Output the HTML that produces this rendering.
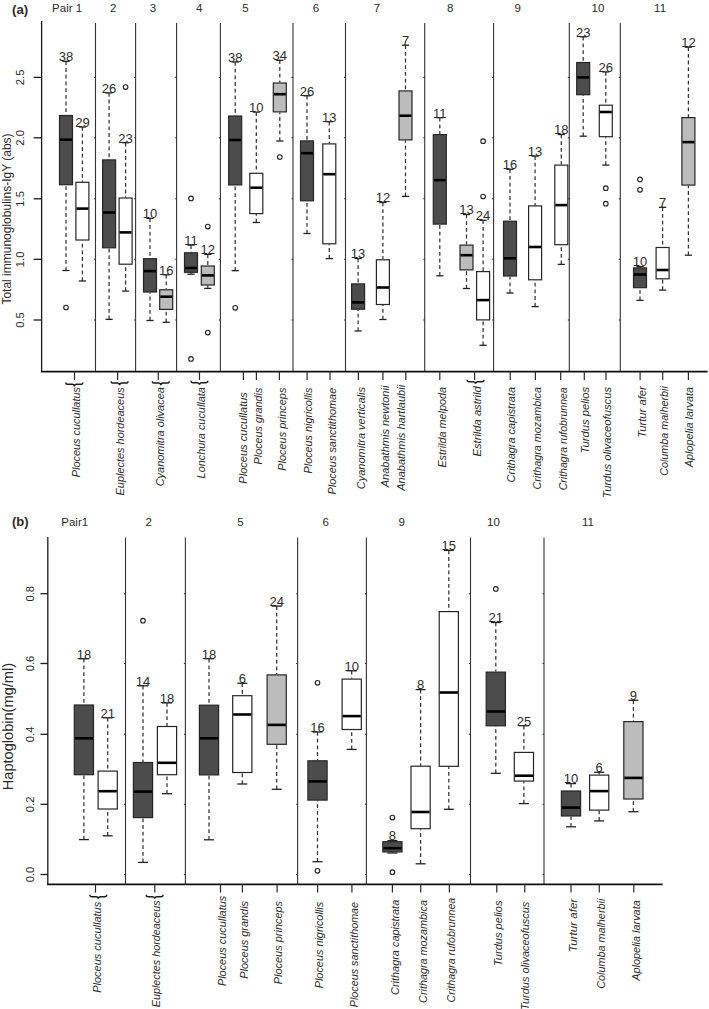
<!DOCTYPE html>
<html><head><meta charset="utf-8"><style>
html,body{margin:0;padding:0;background:#fff;}
svg{display:block;}
text{font-family:"Liberation Sans",sans-serif;fill:#2b2b2b;}
.pl{font-weight:bold;font-size:12px;}
.gl{font-size:11.5px;text-anchor:middle;}
.tl{font-size:11.3px;text-anchor:middle;}
.tt{text-anchor:middle;}
.n{text-anchor:middle;}
.xl{font-style:italic;text-anchor:end;}
.ax{stroke:#1a1a1a;stroke-width:1.3;}
.xa{stroke:#111;stroke-width:1.8;}
.sp{stroke:#333;stroke-width:1.1;}
.xt{stroke:#2a2a2a;stroke-width:1.2;}
.wh{stroke:#333;stroke-width:1.25;stroke-dasharray:3.8 2.9;}
.cap{stroke:#222;stroke-width:1.3;}
.bx{stroke:#262626;stroke-width:1.2;}
.md{stroke:#000;stroke-width:2.6;}
.ol{fill:none;stroke:#222;stroke-width:1.1;}
.br{fill:none;stroke:#1a1a1a;stroke-width:1.5;}
</style></head><body>
<svg width="709" height="1009" viewBox="0 0 709 1009">
<text class="pl" x="12.0" y="13.5" textLength="16.2" lengthAdjust="spacingAndGlyphs">(a)</text>
<text class="gl" x="67.1" y="12.3">Pair 1</text>
<text class="gl" x="113.2" y="12.3">2</text>
<text class="gl" x="152.9" y="12.3">3</text>
<text class="gl" x="199.2" y="12.3">4</text>
<text class="gl" x="245.5" y="12.3">5</text>
<text class="gl" x="315.9" y="12.3">6</text>
<text class="gl" x="377.0" y="12.3">7</text>
<text class="gl" x="450.3" y="12.3">8</text>
<text class="gl" x="517.7" y="12.3">9</text>
<text class="gl" x="597.9" y="12.3">10</text>
<text class="gl" x="660.1" y="12.3">11</text>
<line class="ax" x1="41.6" y1="21.0" x2="41.6" y2="371.6"/>
<line class="ax" x1="33.7" y1="77.4" x2="41.6" y2="77.4"/>
<text class="tl" transform="translate(23.6,77.4) rotate(-90)">2.5</text>
<line class="ax" x1="33.7" y1="137.8" x2="41.6" y2="137.8"/>
<text class="tl" transform="translate(23.6,137.8) rotate(-90)">2.0</text>
<line class="ax" x1="33.7" y1="198.8" x2="41.6" y2="198.8"/>
<text class="tl" transform="translate(23.6,198.8) rotate(-90)">1.5</text>
<line class="ax" x1="33.7" y1="259.3" x2="41.6" y2="259.3"/>
<text class="tl" transform="translate(23.6,259.3) rotate(-90)">1.0</text>
<line class="ax" x1="33.7" y1="320.0" x2="41.6" y2="320.0"/>
<text class="tl" transform="translate(23.6,320.0) rotate(-90)">0.5</text>
<text class="tt" font-size="12.0" transform="translate(11.1,219.0) rotate(-90)">Total immunoglobulins-IgY (abs)</text>
<line class="sp" x1="95.5" y1="23.0" x2="95.5" y2="371.6"/>
<line class="sp" x1="94.0" y1="77.4" x2="95.5" y2="77.4"/>
<line class="sp" x1="94.0" y1="137.8" x2="95.5" y2="137.8"/>
<line class="sp" x1="94.0" y1="198.8" x2="95.5" y2="198.8"/>
<line class="sp" x1="94.0" y1="259.3" x2="95.5" y2="259.3"/>
<line class="sp" x1="94.0" y1="320.0" x2="95.5" y2="320.0"/>
<line class="sp" x1="135.6" y1="23.0" x2="135.6" y2="371.6"/>
<line class="sp" x1="134.1" y1="77.4" x2="135.6" y2="77.4"/>
<line class="sp" x1="134.1" y1="137.8" x2="135.6" y2="137.8"/>
<line class="sp" x1="134.1" y1="198.8" x2="135.6" y2="198.8"/>
<line class="sp" x1="134.1" y1="259.3" x2="135.6" y2="259.3"/>
<line class="sp" x1="134.1" y1="320.0" x2="135.6" y2="320.0"/>
<line class="sp" x1="176.6" y1="23.0" x2="176.6" y2="371.6"/>
<line class="sp" x1="175.1" y1="77.4" x2="176.6" y2="77.4"/>
<line class="sp" x1="175.1" y1="137.8" x2="176.6" y2="137.8"/>
<line class="sp" x1="175.1" y1="198.8" x2="176.6" y2="198.8"/>
<line class="sp" x1="175.1" y1="259.3" x2="176.6" y2="259.3"/>
<line class="sp" x1="175.1" y1="320.0" x2="176.6" y2="320.0"/>
<line class="sp" x1="220.4" y1="23.0" x2="220.4" y2="371.6"/>
<line class="sp" x1="218.9" y1="77.4" x2="220.4" y2="77.4"/>
<line class="sp" x1="218.9" y1="137.8" x2="220.4" y2="137.8"/>
<line class="sp" x1="218.9" y1="198.8" x2="220.4" y2="198.8"/>
<line class="sp" x1="218.9" y1="259.3" x2="220.4" y2="259.3"/>
<line class="sp" x1="218.9" y1="320.0" x2="220.4" y2="320.0"/>
<line class="sp" x1="293.0" y1="23.0" x2="293.0" y2="371.6"/>
<line class="sp" x1="291.5" y1="77.4" x2="293.0" y2="77.4"/>
<line class="sp" x1="291.5" y1="137.8" x2="293.0" y2="137.8"/>
<line class="sp" x1="291.5" y1="198.8" x2="293.0" y2="198.8"/>
<line class="sp" x1="291.5" y1="259.3" x2="293.0" y2="259.3"/>
<line class="sp" x1="291.5" y1="320.0" x2="293.0" y2="320.0"/>
<line class="sp" x1="345.5" y1="23.0" x2="345.5" y2="371.6"/>
<line class="sp" x1="344.0" y1="77.4" x2="345.5" y2="77.4"/>
<line class="sp" x1="344.0" y1="137.8" x2="345.5" y2="137.8"/>
<line class="sp" x1="344.0" y1="198.8" x2="345.5" y2="198.8"/>
<line class="sp" x1="344.0" y1="259.3" x2="345.5" y2="259.3"/>
<line class="sp" x1="344.0" y1="320.0" x2="345.5" y2="320.0"/>
<line class="sp" x1="424.7" y1="23.0" x2="424.7" y2="371.6"/>
<line class="sp" x1="423.2" y1="77.4" x2="424.7" y2="77.4"/>
<line class="sp" x1="423.2" y1="137.8" x2="424.7" y2="137.8"/>
<line class="sp" x1="423.2" y1="198.8" x2="424.7" y2="198.8"/>
<line class="sp" x1="423.2" y1="259.3" x2="424.7" y2="259.3"/>
<line class="sp" x1="423.2" y1="320.0" x2="424.7" y2="320.0"/>
<line class="sp" x1="493.6" y1="23.0" x2="493.6" y2="371.6"/>
<line class="sp" x1="492.1" y1="77.4" x2="493.6" y2="77.4"/>
<line class="sp" x1="492.1" y1="137.8" x2="493.6" y2="137.8"/>
<line class="sp" x1="492.1" y1="198.8" x2="493.6" y2="198.8"/>
<line class="sp" x1="492.1" y1="259.3" x2="493.6" y2="259.3"/>
<line class="sp" x1="492.1" y1="320.0" x2="493.6" y2="320.0"/>
<line class="sp" x1="569.3" y1="23.0" x2="569.3" y2="371.6"/>
<line class="sp" x1="567.8" y1="77.4" x2="569.3" y2="77.4"/>
<line class="sp" x1="567.8" y1="137.8" x2="569.3" y2="137.8"/>
<line class="sp" x1="567.8" y1="198.8" x2="569.3" y2="198.8"/>
<line class="sp" x1="567.8" y1="259.3" x2="569.3" y2="259.3"/>
<line class="sp" x1="567.8" y1="320.0" x2="569.3" y2="320.0"/>
<line class="sp" x1="620.3" y1="23.0" x2="620.3" y2="371.6"/>
<line class="sp" x1="618.8" y1="77.4" x2="620.3" y2="77.4"/>
<line class="sp" x1="618.8" y1="137.8" x2="620.3" y2="137.8"/>
<line class="sp" x1="618.8" y1="198.8" x2="620.3" y2="198.8"/>
<line class="sp" x1="618.8" y1="259.3" x2="620.3" y2="259.3"/>
<line class="sp" x1="618.8" y1="320.0" x2="620.3" y2="320.0"/>
<line class="xa" x1="40.9" y1="371.6" x2="707.6" y2="371.6"/>
<line class="wh" x1="66.0" y1="61.4" x2="66.0" y2="115.0"/>
<line class="wh" x1="66.0" y1="270.5" x2="66.0" y2="185.2"/>
<line class="cap" x1="62.4" y1="61.4" x2="69.6" y2="61.4"/>
<line class="cap" x1="62.4" y1="270.5" x2="69.6" y2="270.5"/>
<rect class="bx" x="59.50" y="115.50" width="13.00" height="69.20" fill="#4c4c4c"/>
<line class="md" x1="60.0" y1="139.7" x2="72.0" y2="139.7"/>
<circle class="ol" cx="66.0" cy="307.5" r="2.3"/>
<text class="n" x="66.0" y="61.2" font-size="13">38</text>
<line class="wh" x1="82.4" y1="127.0" x2="82.4" y2="181.8"/>
<line class="wh" x1="82.4" y1="281.0" x2="82.4" y2="240.5"/>
<line class="cap" x1="78.8" y1="127.0" x2="86.0" y2="127.0"/>
<line class="cap" x1="78.8" y1="281.0" x2="86.0" y2="281.0"/>
<rect class="bx" x="75.90" y="182.30" width="13.00" height="57.70" fill="#ffffff"/>
<line class="md" x1="76.4" y1="208.6" x2="88.4" y2="208.6"/>
<text class="n" x="82.4" y="126.8" font-size="13">29</text>
<line class="wh" x1="109.1" y1="92.9" x2="109.1" y2="159.4"/>
<line class="wh" x1="109.1" y1="319.4" x2="109.1" y2="248.3"/>
<line class="cap" x1="105.5" y1="92.9" x2="112.7" y2="92.9"/>
<line class="cap" x1="105.5" y1="319.4" x2="112.7" y2="319.4"/>
<rect class="bx" x="102.60" y="159.90" width="13.00" height="87.90" fill="#4c4c4c"/>
<line class="md" x1="103.1" y1="212.5" x2="115.1" y2="212.5"/>
<text class="n" x="109.1" y="92.7" font-size="13">26</text>
<line class="wh" x1="125.6" y1="142.7" x2="125.6" y2="197.5"/>
<line class="wh" x1="125.6" y1="291.1" x2="125.6" y2="264.7"/>
<line class="cap" x1="122.0" y1="142.7" x2="129.2" y2="142.7"/>
<line class="cap" x1="122.0" y1="291.1" x2="129.2" y2="291.1"/>
<rect class="bx" x="119.10" y="198.00" width="13.00" height="66.20" fill="#ffffff"/>
<line class="md" x1="119.6" y1="232.4" x2="131.6" y2="232.4"/>
<circle class="ol" cx="125.6" cy="87.1" r="2.3"/>
<text class="n" x="125.6" y="142.5" font-size="13">23</text>
<line class="wh" x1="150.0" y1="218.4" x2="150.0" y2="258.2"/>
<line class="wh" x1="150.0" y1="320.5" x2="150.0" y2="292.5"/>
<line class="cap" x1="146.4" y1="218.4" x2="153.6" y2="218.4"/>
<line class="cap" x1="146.4" y1="320.5" x2="153.6" y2="320.5"/>
<rect class="bx" x="143.50" y="258.70" width="13.00" height="33.30" fill="#4c4c4c"/>
<line class="md" x1="144.0" y1="271.1" x2="156.0" y2="271.1"/>
<text class="n" x="150.0" y="218.2" font-size="13">10</text>
<line class="wh" x1="166.2" y1="274.8" x2="166.2" y2="289.3"/>
<line class="wh" x1="166.2" y1="322.3" x2="166.2" y2="309.9"/>
<line class="cap" x1="162.6" y1="274.8" x2="169.8" y2="274.8"/>
<line class="cap" x1="162.6" y1="322.3" x2="169.8" y2="322.3"/>
<rect class="bx" x="159.70" y="289.80" width="13.00" height="19.60" fill="#bcbcbc"/>
<line class="md" x1="160.2" y1="296.7" x2="172.2" y2="296.7"/>
<text class="n" x="166.2" y="274.6" font-size="13">16</text>
<line class="wh" x1="191.0" y1="245.1" x2="191.0" y2="252.3"/>
<line class="wh" x1="191.0" y1="274.2" x2="191.0" y2="272.8"/>
<line class="cap" x1="187.4" y1="245.1" x2="194.6" y2="245.1"/>
<line class="cap" x1="187.4" y1="274.2" x2="194.6" y2="274.2"/>
<rect class="bx" x="184.50" y="252.80" width="13.00" height="19.50" fill="#4c4c4c"/>
<line class="md" x1="185.0" y1="268.0" x2="197.0" y2="268.0"/>
<circle class="ol" cx="191.0" cy="198.4" r="2.3"/>
<circle class="ol" cx="191.0" cy="358.9" r="2.3"/>
<text class="n" x="191.0" y="244.9" font-size="13">11</text>
<line class="wh" x1="207.8" y1="254.4" x2="207.8" y2="265.5"/>
<line class="wh" x1="207.8" y1="288.4" x2="207.8" y2="285.5"/>
<line class="cap" x1="204.2" y1="254.4" x2="211.4" y2="254.4"/>
<line class="cap" x1="204.2" y1="288.4" x2="211.4" y2="288.4"/>
<rect class="bx" x="201.30" y="266.00" width="13.00" height="19.00" fill="#bcbcbc"/>
<line class="md" x1="201.8" y1="275.4" x2="213.8" y2="275.4"/>
<circle class="ol" cx="207.8" cy="226.6" r="2.3"/>
<circle class="ol" cx="207.8" cy="332.6" r="2.3"/>
<text class="n" x="207.8" y="254.2" font-size="13">12</text>
<line class="wh" x1="235.2" y1="62.0" x2="235.2" y2="115.5"/>
<line class="wh" x1="235.2" y1="270.7" x2="235.2" y2="185.4"/>
<line class="cap" x1="231.6" y1="62.0" x2="238.8" y2="62.0"/>
<line class="cap" x1="231.6" y1="270.7" x2="238.8" y2="270.7"/>
<rect class="bx" x="228.70" y="116.00" width="13.00" height="68.90" fill="#4c4c4c"/>
<line class="md" x1="229.2" y1="140.0" x2="241.2" y2="140.0"/>
<circle class="ol" cx="235.2" cy="307.8" r="2.3"/>
<text class="n" x="235.2" y="61.8" font-size="13">38</text>
<line class="wh" x1="256.3" y1="112.1" x2="256.3" y2="172.8"/>
<line class="wh" x1="256.3" y1="222.5" x2="256.3" y2="214.1"/>
<line class="cap" x1="252.7" y1="112.1" x2="259.9" y2="112.1"/>
<line class="cap" x1="252.7" y1="222.5" x2="259.9" y2="222.5"/>
<rect class="bx" x="249.80" y="173.30" width="13.00" height="40.30" fill="#ffffff"/>
<line class="md" x1="250.3" y1="187.7" x2="262.3" y2="187.7"/>
<text class="n" x="256.3" y="111.9" font-size="13">10</text>
<line class="wh" x1="279.8" y1="60.3" x2="279.8" y2="82.5"/>
<line class="wh" x1="279.8" y1="141.0" x2="279.8" y2="112.4"/>
<line class="cap" x1="276.2" y1="60.3" x2="283.4" y2="60.3"/>
<line class="cap" x1="276.2" y1="141.0" x2="283.4" y2="141.0"/>
<rect class="bx" x="273.30" y="83.00" width="13.00" height="28.90" fill="#bcbcbc"/>
<line class="md" x1="273.8" y1="94.2" x2="285.8" y2="94.2"/>
<circle class="ol" cx="279.8" cy="157.0" r="2.3"/>
<text class="n" x="279.8" y="60.1" font-size="13">34</text>
<line class="wh" x1="307.0" y1="95.8" x2="307.0" y2="140.4"/>
<line class="wh" x1="307.0" y1="233.5" x2="307.0" y2="201.3"/>
<line class="cap" x1="303.4" y1="95.8" x2="310.6" y2="95.8"/>
<line class="cap" x1="303.4" y1="233.5" x2="310.6" y2="233.5"/>
<rect class="bx" x="300.50" y="140.90" width="13.00" height="59.90" fill="#4c4c4c"/>
<line class="md" x1="301.0" y1="153.2" x2="313.0" y2="153.2"/>
<text class="n" x="307.0" y="95.6" font-size="13">26</text>
<line class="wh" x1="329.3" y1="121.7" x2="329.3" y2="143.4"/>
<line class="wh" x1="329.3" y1="258.6" x2="329.3" y2="244.3"/>
<line class="cap" x1="325.7" y1="121.7" x2="332.9" y2="121.7"/>
<line class="cap" x1="325.7" y1="258.6" x2="332.9" y2="258.6"/>
<rect class="bx" x="322.80" y="143.90" width="13.00" height="99.90" fill="#ffffff"/>
<line class="md" x1="323.3" y1="174.2" x2="335.3" y2="174.2"/>
<text class="n" x="329.3" y="121.5" font-size="13">13</text>
<line class="wh" x1="358.1" y1="258.5" x2="358.1" y2="283.4"/>
<line class="wh" x1="358.1" y1="331.0" x2="358.1" y2="309.7"/>
<line class="cap" x1="354.5" y1="258.5" x2="361.7" y2="258.5"/>
<line class="cap" x1="354.5" y1="331.0" x2="361.7" y2="331.0"/>
<rect class="bx" x="351.60" y="283.90" width="13.00" height="25.30" fill="#4c4c4c"/>
<line class="md" x1="352.1" y1="302.4" x2="364.1" y2="302.4"/>
<text class="n" x="358.1" y="258.3" font-size="13">13</text>
<line class="wh" x1="382.9" y1="202.5" x2="382.9" y2="259.3"/>
<line class="wh" x1="382.9" y1="319.5" x2="382.9" y2="305.0"/>
<line class="cap" x1="379.3" y1="202.5" x2="386.5" y2="202.5"/>
<line class="cap" x1="379.3" y1="319.5" x2="386.5" y2="319.5"/>
<rect class="bx" x="376.40" y="259.80" width="13.00" height="44.70" fill="#ffffff"/>
<line class="md" x1="376.9" y1="287.5" x2="388.9" y2="287.5"/>
<text class="n" x="382.9" y="202.3" font-size="13">12</text>
<line class="wh" x1="405.5" y1="45.2" x2="405.5" y2="90.4"/>
<line class="wh" x1="405.5" y1="196.4" x2="405.5" y2="140.4"/>
<line class="cap" x1="401.9" y1="45.2" x2="409.1" y2="45.2"/>
<line class="cap" x1="401.9" y1="196.4" x2="409.1" y2="196.4"/>
<rect class="bx" x="399.00" y="90.90" width="13.00" height="49.00" fill="#bcbcbc"/>
<line class="md" x1="399.5" y1="115.7" x2="411.5" y2="115.7"/>
<text class="n" x="405.5" y="45.0" font-size="13">7</text>
<line class="wh" x1="439.8" y1="117.7" x2="439.8" y2="134.1"/>
<line class="wh" x1="439.8" y1="275.8" x2="439.8" y2="224.6"/>
<line class="cap" x1="436.2" y1="117.7" x2="443.4" y2="117.7"/>
<line class="cap" x1="436.2" y1="275.8" x2="443.4" y2="275.8"/>
<rect class="bx" x="433.30" y="134.60" width="13.00" height="89.50" fill="#4c4c4c"/>
<line class="md" x1="433.8" y1="180.1" x2="445.8" y2="180.1"/>
<text class="n" x="439.8" y="117.5" font-size="13">11</text>
<line class="wh" x1="466.5" y1="214.5" x2="466.5" y2="244.6"/>
<line class="wh" x1="466.5" y1="288.5" x2="466.5" y2="270.4"/>
<line class="cap" x1="462.9" y1="214.5" x2="470.1" y2="214.5"/>
<line class="cap" x1="462.9" y1="288.5" x2="470.1" y2="288.5"/>
<rect class="bx" x="460.00" y="245.10" width="13.00" height="24.80" fill="#bcbcbc"/>
<line class="md" x1="460.5" y1="255.2" x2="472.5" y2="255.2"/>
<text class="n" x="466.5" y="214.3" font-size="13">13</text>
<line class="wh" x1="483.1" y1="220.3" x2="483.1" y2="271.1"/>
<line class="wh" x1="483.1" y1="345.3" x2="483.1" y2="320.4"/>
<line class="cap" x1="479.5" y1="220.3" x2="486.7" y2="220.3"/>
<line class="cap" x1="479.5" y1="345.3" x2="486.7" y2="345.3"/>
<rect class="bx" x="476.60" y="271.60" width="13.00" height="48.30" fill="#ffffff"/>
<line class="md" x1="477.1" y1="300.1" x2="489.1" y2="300.1"/>
<circle class="ol" cx="483.1" cy="141.2" r="2.3"/>
<circle class="ol" cx="483.1" cy="196.5" r="2.3"/>
<text class="n" x="483.1" y="220.1" font-size="13">24</text>
<line class="wh" x1="510.0" y1="169.3" x2="510.0" y2="220.7"/>
<line class="wh" x1="510.0" y1="293.0" x2="510.0" y2="276.5"/>
<line class="cap" x1="506.4" y1="169.3" x2="513.6" y2="169.3"/>
<line class="cap" x1="506.4" y1="293.0" x2="513.6" y2="293.0"/>
<rect class="bx" x="503.50" y="221.20" width="13.00" height="54.80" fill="#4c4c4c"/>
<line class="md" x1="504.0" y1="258.3" x2="516.0" y2="258.3"/>
<text class="n" x="510.0" y="169.1" font-size="13">16</text>
<line class="wh" x1="535.1" y1="156.1" x2="535.1" y2="205.4"/>
<line class="wh" x1="535.1" y1="306.6" x2="535.1" y2="280.3"/>
<line class="cap" x1="531.5" y1="156.1" x2="538.7" y2="156.1"/>
<line class="cap" x1="531.5" y1="306.6" x2="538.7" y2="306.6"/>
<rect class="bx" x="528.60" y="205.90" width="13.00" height="73.90" fill="#ffffff"/>
<line class="md" x1="529.1" y1="247.0" x2="541.1" y2="247.0"/>
<text class="n" x="535.1" y="155.9" font-size="13">13</text>
<line class="wh" x1="561.3" y1="134.5" x2="561.3" y2="164.6"/>
<line class="wh" x1="561.3" y1="264.4" x2="561.3" y2="245.2"/>
<line class="cap" x1="557.7" y1="134.5" x2="564.9" y2="134.5"/>
<line class="cap" x1="557.7" y1="264.4" x2="564.9" y2="264.4"/>
<rect class="bx" x="554.80" y="165.10" width="13.00" height="79.60" fill="#ffffff"/>
<line class="md" x1="555.3" y1="205.1" x2="567.3" y2="205.1"/>
<text class="n" x="561.3" y="134.3" font-size="13">18</text>
<line class="wh" x1="583.2" y1="36.8" x2="583.2" y2="62.0"/>
<line class="wh" x1="583.2" y1="136.2" x2="583.2" y2="95.2"/>
<line class="cap" x1="579.6" y1="36.8" x2="586.8" y2="36.8"/>
<line class="cap" x1="579.6" y1="136.2" x2="586.8" y2="136.2"/>
<rect class="bx" x="576.70" y="62.50" width="13.00" height="32.20" fill="#4c4c4c"/>
<line class="md" x1="577.2" y1="77.4" x2="589.2" y2="77.4"/>
<text class="n" x="583.2" y="36.6" font-size="13">23</text>
<line class="wh" x1="605.8" y1="71.9" x2="605.8" y2="104.7"/>
<line class="wh" x1="605.8" y1="165.1" x2="605.8" y2="137.2"/>
<line class="cap" x1="602.2" y1="71.9" x2="609.4" y2="71.9"/>
<line class="cap" x1="602.2" y1="165.1" x2="609.4" y2="165.1"/>
<rect class="bx" x="599.30" y="105.20" width="13.00" height="31.50" fill="#ffffff"/>
<line class="md" x1="599.8" y1="112.0" x2="611.8" y2="112.0"/>
<circle class="ol" cx="605.8" cy="188.2" r="2.3"/>
<circle class="ol" cx="605.8" cy="203.7" r="2.3"/>
<text class="n" x="605.8" y="71.7" font-size="13">26</text>
<line class="wh" x1="640.0" y1="266.6" x2="640.0" y2="267.4"/>
<line class="wh" x1="640.0" y1="300.4" x2="640.0" y2="288.2"/>
<line class="cap" x1="636.4" y1="266.6" x2="643.6" y2="266.6"/>
<line class="cap" x1="636.4" y1="300.4" x2="643.6" y2="300.4"/>
<rect class="bx" x="633.50" y="267.90" width="13.00" height="19.80" fill="#4c4c4c"/>
<line class="md" x1="634.0" y1="274.5" x2="646.0" y2="274.5"/>
<circle class="ol" cx="640.0" cy="179.4" r="2.3"/>
<circle class="ol" cx="640.0" cy="189.8" r="2.3"/>
<text class="n" x="640.0" y="266.4" font-size="13">10</text>
<line class="wh" x1="662.6" y1="207.3" x2="662.6" y2="247.0"/>
<line class="wh" x1="662.6" y1="290.1" x2="662.6" y2="279.3"/>
<line class="cap" x1="659.0" y1="207.3" x2="666.2" y2="207.3"/>
<line class="cap" x1="659.0" y1="290.1" x2="666.2" y2="290.1"/>
<rect class="bx" x="656.10" y="247.50" width="13.00" height="31.30" fill="#ffffff"/>
<line class="md" x1="656.6" y1="270.0" x2="668.6" y2="270.0"/>
<text class="n" x="662.6" y="207.1" font-size="13">7</text>
<line class="wh" x1="688.4" y1="47.2" x2="688.4" y2="117.1"/>
<line class="wh" x1="688.4" y1="255.2" x2="688.4" y2="185.6"/>
<line class="cap" x1="684.8" y1="47.2" x2="692.0" y2="47.2"/>
<line class="cap" x1="684.8" y1="255.2" x2="692.0" y2="255.2"/>
<rect class="bx" x="681.90" y="117.60" width="13.00" height="67.50" fill="#bcbcbc"/>
<line class="md" x1="682.4" y1="142.1" x2="694.4" y2="142.1"/>
<text class="n" x="688.4" y="47.0" font-size="13">12</text>
<line class="xt" x1="74.5" y1="371.6" x2="74.5" y2="380.0"/>
<path class="br" d="M65.90,382.40 C65.90,384.30 66.50,384.30 68.10,384.30 L72.10,384.30 C73.50,384.30 74.10,384.90 74.30,386.30 C74.50,384.90 75.10,384.30 76.50,384.30 L80.50,384.30 C82.10,384.30 82.70,384.30 82.70,382.40"/>
<text class="xl" font-size="11.0" textLength="90.2" lengthAdjust="spacingAndGlyphs" transform="translate(80.0,387.1) rotate(-90)">Ploceus cucullatus</text>
<line class="xt" x1="117.6" y1="371.6" x2="117.6" y2="380.0"/>
<path class="br" d="M111.20,381.20 C111.20,383.10 111.80,383.10 113.40,383.10 L117.40,383.10 C118.80,383.10 119.40,383.70 119.60,385.10 C119.80,383.70 120.40,383.10 121.80,383.10 L125.80,383.10 C127.40,383.10 128.00,383.10 128.00,381.20"/>
<text class="xl" font-size="11.0" textLength="108.2" lengthAdjust="spacingAndGlyphs" transform="translate(123.6,387.3) rotate(-90)">Euplectes hordeaceus</text>
<line class="xt" x1="158.3" y1="371.6" x2="158.3" y2="380.0"/>
<path class="br" d="M152.40,381.20 C152.40,383.10 153.00,383.10 154.60,383.10 L158.60,383.10 C160.00,383.10 160.60,383.70 160.80,385.10 C161.00,383.70 161.60,383.10 163.00,383.10 L167.00,383.10 C168.60,383.10 169.20,383.10 169.20,381.20"/>
<text class="xl" font-size="11.0" textLength="99.1" lengthAdjust="spacingAndGlyphs" transform="translate(163.9,387.2) rotate(-90)">Cyanomitra olivacea</text>
<line class="xt" x1="199.5" y1="371.6" x2="199.5" y2="380.0"/>
<path class="br" d="M191.00,380.80 C191.00,382.70 191.60,382.70 193.20,382.70 L197.20,382.70 C198.60,382.70 199.20,383.30 199.40,384.70 C199.60,383.30 200.20,382.70 201.60,382.70 L205.60,382.70 C207.20,382.70 207.80,382.70 207.80,380.80"/>
<text class="xl" font-size="11.0" textLength="91.2" lengthAdjust="spacingAndGlyphs" transform="translate(204.5,387.2) rotate(-90)">Lonchura cucullata</text>
<line class="xt" x1="243.4" y1="371.6" x2="243.4" y2="380.0"/>
<text class="xl" font-size="11.0" textLength="91.6" lengthAdjust="spacingAndGlyphs" transform="translate(247.1,392.1) rotate(-90)">Ploceus cucullatus</text>
<line class="xt" x1="256.4" y1="371.6" x2="256.4" y2="380.0"/>
<text class="xl" font-size="11.0" textLength="76.8" lengthAdjust="spacingAndGlyphs" transform="translate(262.4,387.6) rotate(-90)">Ploceus grandis</text>
<line class="xt" x1="279.4" y1="371.6" x2="279.4" y2="380.0"/>
<text class="xl" font-size="11.0" textLength="83.1" lengthAdjust="spacingAndGlyphs" transform="translate(285.9,387.6) rotate(-90)">Ploceus princeps</text>
<line class="xt" x1="307.1" y1="371.6" x2="307.1" y2="380.0"/>
<text class="xl" font-size="11.0" textLength="85.8" lengthAdjust="spacingAndGlyphs" transform="translate(311.9,387.6) rotate(-90)">Ploceus nigricollis</text>
<line class="xt" x1="330.0" y1="371.6" x2="330.0" y2="380.0"/>
<text class="xl" font-size="11.0" textLength="106.6" lengthAdjust="spacingAndGlyphs" transform="translate(335.5,387.8) rotate(-90)">Ploceus sanctithomae</text>
<line class="xt" x1="358.4" y1="371.6" x2="358.4" y2="380.0"/>
<text class="xl" font-size="11.0" textLength="102.2" lengthAdjust="spacingAndGlyphs" transform="translate(364.9,387.1) rotate(-90)">Cyanomitra verticalis</text>
<line class="xt" x1="382.9" y1="371.6" x2="382.9" y2="380.0"/>
<text class="xl" font-size="11.0" textLength="101.7" lengthAdjust="spacingAndGlyphs" transform="translate(389.1,385.6) rotate(-90)">Anabathmis newtonii</text>
<line class="xt" x1="405.8" y1="371.6" x2="405.8" y2="380.0"/>
<text class="xl" font-size="11.0" textLength="105.9" lengthAdjust="spacingAndGlyphs" transform="translate(405.3,384.9) rotate(-90)">Anabathmis hartlaubii</text>
<line class="xt" x1="439.8" y1="371.6" x2="439.8" y2="380.0"/>
<text class="xl" font-size="11.0" textLength="80.6" lengthAdjust="spacingAndGlyphs" transform="translate(446.2,387.0) rotate(-90)">Estrilda melpoda</text>
<line class="xt" x1="474.6" y1="371.6" x2="474.6" y2="380.0"/>
<path class="br" d="M467.20,379.80 C467.20,381.70 467.80,381.70 469.40,381.70 L473.40,381.70 C474.80,381.70 475.40,382.30 475.60,383.70 C475.80,382.30 476.40,381.70 477.80,381.70 L481.80,381.70 C483.40,381.70 484.00,381.70 484.00,379.80"/>
<text class="xl" font-size="11.0" textLength="70.2" lengthAdjust="spacingAndGlyphs" transform="translate(480.7,386.3) rotate(-90)">Estrilda astrild</text>
<line class="xt" x1="510.2" y1="371.6" x2="510.2" y2="380.0"/>
<text class="xl" font-size="11.0" textLength="95.4" lengthAdjust="spacingAndGlyphs" transform="translate(515.3,387.0) rotate(-90)">Crithagra capistrata</text>
<line class="xt" x1="535.4" y1="371.6" x2="535.4" y2="380.0"/>
<text class="xl" font-size="11.0" textLength="102.6" lengthAdjust="spacingAndGlyphs" transform="translate(541.2,387.0) rotate(-90)">Crithagra mozambica</text>
<line class="xt" x1="560.7" y1="371.6" x2="560.7" y2="380.0"/>
<text class="xl" font-size="11.0" textLength="103.0" lengthAdjust="spacingAndGlyphs" transform="translate(567.2,387.3) rotate(-90)">Crithagra rufobrunnea</text>
<line class="xt" x1="584.3" y1="371.6" x2="584.3" y2="380.0"/>
<text class="xl" font-size="11.0" textLength="66.4" lengthAdjust="spacingAndGlyphs" transform="translate(588.6,387.0) rotate(-90)">Turdus pelios</text>
<line class="xt" x1="606.0" y1="371.6" x2="606.0" y2="380.0"/>
<text class="xl" font-size="11.0" textLength="110.9" lengthAdjust="spacingAndGlyphs" transform="translate(611.0,387.0) rotate(-90)">Turdus olivaceofuscus</text>
<line class="xt" x1="640.1" y1="371.6" x2="640.1" y2="380.0"/>
<text class="xl" font-size="11.0" textLength="51.6" lengthAdjust="spacingAndGlyphs" transform="translate(646.4,386.2) rotate(-90)">Turtur afer</text>
<line class="xt" x1="662.7" y1="371.6" x2="662.7" y2="380.0"/>
<text class="xl" font-size="11.0" textLength="89.6" lengthAdjust="spacingAndGlyphs" transform="translate(668.3,386.2) rotate(-90)">Columba malherbii</text>
<line class="xt" x1="688.4" y1="371.6" x2="688.4" y2="380.0"/>
<text class="xl" font-size="11.0" textLength="80.3" lengthAdjust="spacingAndGlyphs" transform="translate(693.4,386.9) rotate(-90)">Aplopelia larvata</text>
<text class="pl" x="12.0" y="526" textLength="16.6" lengthAdjust="spacingAndGlyphs">(b)</text>
<text class="gl" x="74.7" y="525.8">Pair1</text>
<text class="gl" x="148.7" y="525.8">2</text>
<text class="gl" x="240.5" y="525.8">5</text>
<text class="gl" x="325.6" y="525.8">6</text>
<text class="gl" x="401.8" y="525.8">9</text>
<text class="gl" x="493.4" y="525.8">10</text>
<text class="gl" x="587.9" y="525.8">11</text>
<line class="ax" x1="47.8" y1="537.0" x2="47.8" y2="884.3"/>
<line class="ax" x1="40.5" y1="593.7" x2="47.8" y2="593.7"/>
<text class="tl" transform="translate(34.0,593.7) rotate(-90)">0.8</text>
<line class="ax" x1="40.5" y1="663.5" x2="47.8" y2="663.5"/>
<text class="tl" transform="translate(34.0,663.5) rotate(-90)">0.6</text>
<line class="ax" x1="40.5" y1="734.3" x2="47.8" y2="734.3"/>
<text class="tl" transform="translate(34.0,734.3) rotate(-90)">0.4</text>
<line class="ax" x1="40.5" y1="804.3" x2="47.8" y2="804.3"/>
<text class="tl" transform="translate(34.0,804.3) rotate(-90)">0.2</text>
<line class="ax" x1="40.5" y1="874.5" x2="47.8" y2="874.5"/>
<text class="tl" transform="translate(34.0,874.5) rotate(-90)">0.0</text>
<text class="tt" font-size="14.6" transform="translate(13.0,726.6) rotate(-90)">Haptoglobin(mg/ml)</text>
<line class="sp" x1="125.5" y1="537.5" x2="125.5" y2="884.3"/>
<line class="sp" x1="124.0" y1="593.7" x2="125.5" y2="593.7"/>
<line class="sp" x1="124.0" y1="663.5" x2="125.5" y2="663.5"/>
<line class="sp" x1="124.0" y1="734.3" x2="125.5" y2="734.3"/>
<line class="sp" x1="124.0" y1="804.3" x2="125.5" y2="804.3"/>
<line class="sp" x1="124.0" y1="874.5" x2="125.5" y2="874.5"/>
<line class="sp" x1="185.4" y1="537.5" x2="185.4" y2="884.3"/>
<line class="sp" x1="183.9" y1="593.7" x2="185.4" y2="593.7"/>
<line class="sp" x1="183.9" y1="663.5" x2="185.4" y2="663.5"/>
<line class="sp" x1="183.9" y1="734.3" x2="185.4" y2="734.3"/>
<line class="sp" x1="183.9" y1="804.3" x2="185.4" y2="804.3"/>
<line class="sp" x1="183.9" y1="874.5" x2="185.4" y2="874.5"/>
<line class="sp" x1="297.6" y1="537.5" x2="297.6" y2="884.3"/>
<line class="sp" x1="296.1" y1="593.7" x2="297.6" y2="593.7"/>
<line class="sp" x1="296.1" y1="663.5" x2="297.6" y2="663.5"/>
<line class="sp" x1="296.1" y1="734.3" x2="297.6" y2="734.3"/>
<line class="sp" x1="296.1" y1="804.3" x2="297.6" y2="804.3"/>
<line class="sp" x1="296.1" y1="874.5" x2="297.6" y2="874.5"/>
<line class="sp" x1="366.4" y1="537.5" x2="366.4" y2="884.3"/>
<line class="sp" x1="364.9" y1="593.7" x2="366.4" y2="593.7"/>
<line class="sp" x1="364.9" y1="663.5" x2="366.4" y2="663.5"/>
<line class="sp" x1="364.9" y1="734.3" x2="366.4" y2="734.3"/>
<line class="sp" x1="364.9" y1="804.3" x2="366.4" y2="804.3"/>
<line class="sp" x1="364.9" y1="874.5" x2="366.4" y2="874.5"/>
<line class="sp" x1="470.5" y1="537.5" x2="470.5" y2="884.3"/>
<line class="sp" x1="469.0" y1="593.7" x2="470.5" y2="593.7"/>
<line class="sp" x1="469.0" y1="663.5" x2="470.5" y2="663.5"/>
<line class="sp" x1="469.0" y1="734.3" x2="470.5" y2="734.3"/>
<line class="sp" x1="469.0" y1="804.3" x2="470.5" y2="804.3"/>
<line class="sp" x1="469.0" y1="874.5" x2="470.5" y2="874.5"/>
<line class="sp" x1="544.0" y1="537.5" x2="544.0" y2="884.3"/>
<line class="sp" x1="542.5" y1="593.7" x2="544.0" y2="593.7"/>
<line class="sp" x1="542.5" y1="663.5" x2="544.0" y2="663.5"/>
<line class="sp" x1="542.5" y1="734.3" x2="544.0" y2="734.3"/>
<line class="sp" x1="542.5" y1="804.3" x2="544.0" y2="804.3"/>
<line class="sp" x1="542.5" y1="874.5" x2="544.0" y2="874.5"/>
<line class="xa" x1="47.099999999999994" y1="884.3" x2="662.6" y2="884.3"/>
<line class="wh" x1="83.9" y1="658.8" x2="83.9" y2="704.5"/>
<line class="wh" x1="83.9" y1="839.6" x2="83.9" y2="775.2"/>
<line class="cap" x1="78.9" y1="658.8" x2="88.9" y2="658.8"/>
<line class="cap" x1="78.9" y1="839.6" x2="88.9" y2="839.6"/>
<rect class="bx" x="74.30" y="705.00" width="19.20" height="69.70" fill="#4c4c4c"/>
<line class="md" x1="74.8" y1="738.3" x2="93.0" y2="738.3"/>
<text class="n" x="83.9" y="658.6" font-size="13">18</text>
<line class="wh" x1="107.7" y1="717.8" x2="107.7" y2="770.6"/>
<line class="wh" x1="107.7" y1="835.8" x2="107.7" y2="809.5"/>
<line class="cap" x1="102.7" y1="717.8" x2="112.7" y2="717.8"/>
<line class="cap" x1="102.7" y1="835.8" x2="112.7" y2="835.8"/>
<rect class="bx" x="98.10" y="771.10" width="19.20" height="37.90" fill="#ffffff"/>
<line class="md" x1="98.6" y1="791.2" x2="116.8" y2="791.2"/>
<text class="n" x="107.7" y="717.6" font-size="13">21</text>
<line class="wh" x1="143.0" y1="685.8" x2="143.0" y2="762.0"/>
<line class="wh" x1="143.0" y1="862.4" x2="143.0" y2="818.1"/>
<line class="cap" x1="138.0" y1="685.8" x2="148.0" y2="685.8"/>
<line class="cap" x1="138.0" y1="862.4" x2="148.0" y2="862.4"/>
<rect class="bx" x="133.40" y="762.50" width="19.20" height="55.10" fill="#4c4c4c"/>
<line class="md" x1="133.9" y1="791.6" x2="152.1" y2="791.6"/>
<circle class="ol" cx="143.0" cy="620.7" r="2.3"/>
<text class="n" x="143.0" y="685.6" font-size="13">14</text>
<line class="wh" x1="167.0" y1="702.9" x2="167.0" y2="726.0"/>
<line class="wh" x1="167.0" y1="793.7" x2="167.0" y2="775.2"/>
<line class="cap" x1="162.0" y1="702.9" x2="172.0" y2="702.9"/>
<line class="cap" x1="162.0" y1="793.7" x2="172.0" y2="793.7"/>
<rect class="bx" x="157.40" y="726.50" width="19.20" height="48.20" fill="#ffffff"/>
<line class="md" x1="157.9" y1="762.8" x2="176.1" y2="762.8"/>
<text class="n" x="167.0" y="702.7" font-size="13">18</text>
<line class="wh" x1="209.0" y1="658.7" x2="209.0" y2="704.7"/>
<line class="wh" x1="209.0" y1="839.8" x2="209.0" y2="775.4"/>
<line class="cap" x1="204.0" y1="658.7" x2="214.0" y2="658.7"/>
<line class="cap" x1="204.0" y1="839.8" x2="214.0" y2="839.8"/>
<rect class="bx" x="199.40" y="705.20" width="19.20" height="69.70" fill="#4c4c4c"/>
<line class="md" x1="199.9" y1="738.3" x2="218.1" y2="738.3"/>
<text class="n" x="209.0" y="658.5" font-size="13">18</text>
<line class="wh" x1="242.3" y1="683.3" x2="242.3" y2="695.2"/>
<line class="wh" x1="242.3" y1="784.0" x2="242.3" y2="773.0"/>
<line class="cap" x1="237.3" y1="683.3" x2="247.3" y2="683.3"/>
<line class="cap" x1="237.3" y1="784.0" x2="247.3" y2="784.0"/>
<rect class="bx" x="232.70" y="695.70" width="19.20" height="76.80" fill="#ffffff"/>
<line class="md" x1="233.2" y1="714.5" x2="251.4" y2="714.5"/>
<text class="n" x="242.3" y="683.1" font-size="13">6</text>
<line class="wh" x1="276.7" y1="606.1" x2="276.7" y2="674.4"/>
<line class="wh" x1="276.7" y1="789.3" x2="276.7" y2="744.8"/>
<line class="cap" x1="271.7" y1="606.1" x2="281.7" y2="606.1"/>
<line class="cap" x1="271.7" y1="789.3" x2="281.7" y2="789.3"/>
<rect class="bx" x="267.10" y="674.90" width="19.20" height="69.40" fill="#bcbcbc"/>
<line class="md" x1="267.6" y1="724.9" x2="285.8" y2="724.9"/>
<text class="n" x="276.7" y="605.9" font-size="13">24</text>
<line class="wh" x1="317.5" y1="732.0" x2="317.5" y2="760.3"/>
<line class="wh" x1="317.5" y1="861.7" x2="317.5" y2="800.6"/>
<line class="cap" x1="312.5" y1="732.0" x2="322.5" y2="732.0"/>
<line class="cap" x1="312.5" y1="861.7" x2="322.5" y2="861.7"/>
<rect class="bx" x="307.90" y="760.80" width="19.20" height="39.30" fill="#4c4c4c"/>
<line class="md" x1="308.4" y1="781.4" x2="326.6" y2="781.4"/>
<circle class="ol" cx="317.5" cy="682.8" r="2.3"/>
<circle class="ol" cx="317.5" cy="870.8" r="2.3"/>
<text class="n" x="317.5" y="731.8" font-size="13">16</text>
<line class="wh" x1="351.7" y1="670.8" x2="351.7" y2="678.6"/>
<line class="wh" x1="351.7" y1="749.4" x2="351.7" y2="730.0"/>
<line class="cap" x1="346.7" y1="670.8" x2="356.7" y2="670.8"/>
<line class="cap" x1="346.7" y1="749.4" x2="356.7" y2="749.4"/>
<rect class="bx" x="342.10" y="679.10" width="19.20" height="50.40" fill="#ffffff"/>
<line class="md" x1="342.6" y1="716.1" x2="360.8" y2="716.1"/>
<text class="n" x="351.7" y="670.6" font-size="13">10</text>
<line class="wh" x1="392.4" y1="840.6" x2="392.4" y2="841.2"/>
<line class="wh" x1="392.4" y1="853.0" x2="392.4" y2="852.4"/>
<line class="cap" x1="387.4" y1="840.6" x2="397.4" y2="840.6"/>
<line class="cap" x1="387.4" y1="853.0" x2="397.4" y2="853.0"/>
<rect class="bx" x="382.80" y="841.70" width="19.20" height="10.20" fill="#4c4c4c"/>
<line class="md" x1="383.3" y1="848.2" x2="401.5" y2="848.2"/>
<circle class="ol" cx="392.4" cy="817.6" r="2.3"/>
<circle class="ol" cx="392.4" cy="872.2" r="2.3"/>
<text class="n" x="392.4" y="840.4" font-size="13">8</text>
<line class="wh" x1="420.6" y1="689.6" x2="420.6" y2="765.7"/>
<line class="wh" x1="420.6" y1="863.8" x2="420.6" y2="829.2"/>
<line class="cap" x1="415.6" y1="689.6" x2="425.6" y2="689.6"/>
<line class="cap" x1="415.6" y1="863.8" x2="425.6" y2="863.8"/>
<rect class="bx" x="411.00" y="766.20" width="19.20" height="62.50" fill="#ffffff"/>
<line class="md" x1="411.5" y1="812.0" x2="429.7" y2="812.0"/>
<text class="n" x="420.6" y="689.4" font-size="13">8</text>
<line class="wh" x1="448.8" y1="550.4" x2="448.8" y2="611.1"/>
<line class="wh" x1="448.8" y1="809.3" x2="448.8" y2="766.8"/>
<line class="cap" x1="443.8" y1="550.4" x2="453.8" y2="550.4"/>
<line class="cap" x1="443.8" y1="809.3" x2="453.8" y2="809.3"/>
<rect class="bx" x="439.20" y="611.60" width="19.20" height="154.70" fill="#ffffff"/>
<line class="md" x1="439.7" y1="692.5" x2="457.9" y2="692.5"/>
<text class="n" x="448.8" y="550.2" font-size="13">15</text>
<line class="wh" x1="495.8" y1="622.5" x2="495.8" y2="671.6"/>
<line class="wh" x1="495.8" y1="773.3" x2="495.8" y2="726.3"/>
<line class="cap" x1="490.8" y1="622.5" x2="500.8" y2="622.5"/>
<line class="cap" x1="490.8" y1="773.3" x2="500.8" y2="773.3"/>
<rect class="bx" x="486.20" y="672.10" width="19.20" height="53.70" fill="#4c4c4c"/>
<line class="md" x1="486.7" y1="711.5" x2="504.9" y2="711.5"/>
<circle class="ol" cx="495.8" cy="588.9" r="2.3"/>
<text class="n" x="495.8" y="622.3" font-size="13">21</text>
<line class="wh" x1="523.9" y1="725.7" x2="523.9" y2="751.9"/>
<line class="wh" x1="523.9" y1="803.6" x2="523.9" y2="781.6"/>
<line class="cap" x1="518.9" y1="725.7" x2="528.9" y2="725.7"/>
<line class="cap" x1="518.9" y1="803.6" x2="528.9" y2="803.6"/>
<rect class="bx" x="514.30" y="752.40" width="19.20" height="28.70" fill="#ffffff"/>
<line class="md" x1="514.8" y1="775.7" x2="533.0" y2="775.7"/>
<text class="n" x="523.9" y="725.5" font-size="13">25</text>
<line class="wh" x1="571.0" y1="783.6" x2="571.0" y2="790.5"/>
<line class="wh" x1="571.0" y1="826.8" x2="571.0" y2="816.5"/>
<line class="cap" x1="566.0" y1="783.6" x2="576.0" y2="783.6"/>
<line class="cap" x1="566.0" y1="826.8" x2="576.0" y2="826.8"/>
<rect class="bx" x="561.40" y="791.00" width="19.20" height="25.00" fill="#4c4c4c"/>
<line class="md" x1="561.9" y1="807.6" x2="580.1" y2="807.6"/>
<text class="n" x="571.0" y="783.4" font-size="13">10</text>
<line class="wh" x1="599.2" y1="772.3" x2="599.2" y2="774.6"/>
<line class="wh" x1="599.2" y1="820.9" x2="599.2" y2="810.6"/>
<line class="cap" x1="594.2" y1="772.3" x2="604.2" y2="772.3"/>
<line class="cap" x1="594.2" y1="820.9" x2="604.2" y2="820.9"/>
<rect class="bx" x="589.60" y="775.10" width="19.20" height="35.00" fill="#ffffff"/>
<line class="md" x1="590.1" y1="791.1" x2="608.3" y2="791.1"/>
<text class="n" x="599.2" y="772.1" font-size="13">6</text>
<line class="wh" x1="633.4" y1="700.3" x2="633.4" y2="721.1"/>
<line class="wh" x1="633.4" y1="811.7" x2="633.4" y2="799.5"/>
<line class="cap" x1="628.4" y1="700.3" x2="638.4" y2="700.3"/>
<line class="cap" x1="628.4" y1="811.7" x2="638.4" y2="811.7"/>
<rect class="bx" x="623.80" y="721.60" width="19.20" height="77.40" fill="#bcbcbc"/>
<line class="md" x1="624.3" y1="777.9" x2="642.5" y2="777.9"/>
<text class="n" x="633.4" y="700.1" font-size="13">9</text>
<line class="xt" x1="95.5" y1="884.3" x2="95.5" y2="892.6"/>
<path class="br" d="M89.90,894.80 C89.90,896.70 90.50,896.70 92.10,896.70 L96.10,896.70 C97.50,896.70 98.10,897.30 98.30,898.70 C98.50,897.30 99.10,896.70 100.50,896.70 L104.50,896.70 C106.10,896.70 106.70,896.70 106.70,894.80"/>
<text class="xl" font-size="11.0" textLength="91.0" lengthAdjust="spacingAndGlyphs" transform="translate(101.2,901.8) rotate(-90)">Ploceus cucullatus</text>
<line class="xt" x1="154.8" y1="884.3" x2="154.8" y2="892.6"/>
<path class="br" d="M146.20,894.80 C146.20,896.70 146.80,896.70 148.40,896.70 L152.40,896.70 C153.80,896.70 154.40,897.30 154.60,898.70 C154.80,897.30 155.40,896.70 156.80,896.70 L160.80,896.70 C162.40,896.70 163.00,896.70 163.00,894.80"/>
<text class="xl" font-size="11.0" textLength="106.9" lengthAdjust="spacingAndGlyphs" transform="translate(160.4,900.4) rotate(-90)">Euplectes hordeaceus</text>
<line class="xt" x1="220.5" y1="884.3" x2="220.5" y2="892.6"/>
<text class="xl" font-size="11.0" textLength="90.3" lengthAdjust="spacingAndGlyphs" transform="translate(226.0,895.8) rotate(-90)">Ploceus cucullatus</text>
<line class="xt" x1="242.4" y1="884.3" x2="242.4" y2="892.6"/>
<text class="xl" font-size="11.0" textLength="77.8" lengthAdjust="spacingAndGlyphs" transform="translate(248.2,900.9) rotate(-90)">Ploceus grandis</text>
<line class="xt" x1="277.1" y1="884.3" x2="277.1" y2="892.6"/>
<text class="xl" font-size="11.0" textLength="83.4" lengthAdjust="spacingAndGlyphs" transform="translate(281.8,900.9) rotate(-90)">Ploceus princeps</text>
<line class="xt" x1="317.6" y1="884.3" x2="317.6" y2="892.6"/>
<text class="xl" font-size="11.0" textLength="86.4" lengthAdjust="spacingAndGlyphs" transform="translate(322.6,901.9) rotate(-90)">Ploceus nigricollis</text>
<line class="xt" x1="351.9" y1="884.3" x2="351.9" y2="892.6"/>
<text class="xl" font-size="11.0" textLength="105.3" lengthAdjust="spacingAndGlyphs" transform="translate(357.5,901.9) rotate(-90)">Ploceus sanctithomae</text>
<line class="xt" x1="392.4" y1="884.3" x2="392.4" y2="892.6"/>
<text class="xl" font-size="11.0" textLength="95.1" lengthAdjust="spacingAndGlyphs" transform="translate(398.5,899.8) rotate(-90)">Crithagra capistrata</text>
<line class="xt" x1="420.7" y1="884.3" x2="420.7" y2="892.6"/>
<text class="xl" font-size="11.0" textLength="102.8" lengthAdjust="spacingAndGlyphs" transform="translate(426.7,900.1) rotate(-90)">Crithagra mozambica</text>
<line class="xt" x1="449.4" y1="884.3" x2="449.4" y2="892.6"/>
<text class="xl" font-size="11.0" textLength="104.7" lengthAdjust="spacingAndGlyphs" transform="translate(454.9,897.7) rotate(-90)">Crithagra rufobrunnea</text>
<line class="xt" x1="496.8" y1="884.3" x2="496.8" y2="892.6"/>
<text class="xl" font-size="11.0" textLength="65.6" lengthAdjust="spacingAndGlyphs" transform="translate(501.7,900.5) rotate(-90)">Turdus pelios</text>
<line class="xt" x1="524.8" y1="884.3" x2="524.8" y2="892.6"/>
<text class="xl" font-size="11.0" textLength="108.2" lengthAdjust="spacingAndGlyphs" transform="translate(529.3,901.7) rotate(-90)">Turdus olivaceofuscus</text>
<line class="xt" x1="571.0" y1="884.3" x2="571.0" y2="892.6"/>
<text class="xl" font-size="11.0" textLength="53.3" lengthAdjust="spacingAndGlyphs" transform="translate(576.7,898.7) rotate(-90)">Turtur afer</text>
<line class="xt" x1="599.3" y1="884.3" x2="599.3" y2="892.6"/>
<text class="xl" font-size="11.0" textLength="90.1" lengthAdjust="spacingAndGlyphs" transform="translate(605.1,898.7) rotate(-90)">Columba malherbii</text>
<line class="xt" x1="633.8" y1="884.3" x2="633.8" y2="892.6"/>
<text class="xl" font-size="11.0" textLength="80.4" lengthAdjust="spacingAndGlyphs" transform="translate(639.7,900.3) rotate(-90)">Aplopelia larvata</text>
</svg>
</body></html>
